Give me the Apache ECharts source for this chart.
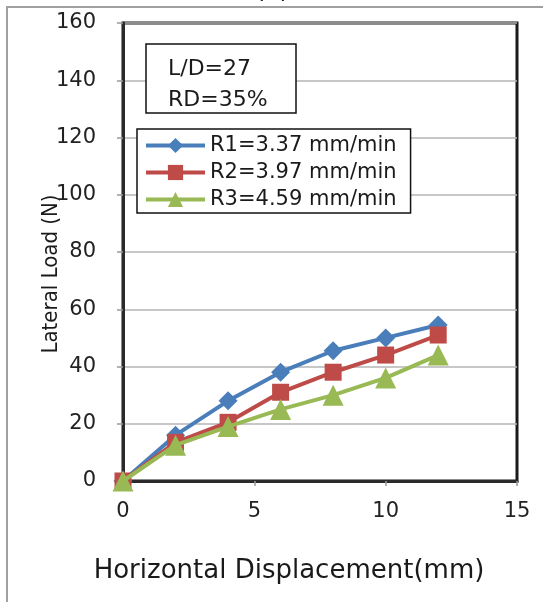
<!DOCTYPE html>
<html>
<head>
<meta charset="utf-8">
<script src="https://cdn.jsdelivr.net/npm/echarts@6/dist/echarts.min.js"></script>
<style>
html,body{margin:0;padding:0;background:#fff;}
#chart{width:543px;height:602px;}
</style>
</head>
<body>
<div id="chart"></div>
<script>
// ---- data ----
const displacement = [0, 2, 4, 6, 8, 10, 12];
const seriesNames = ['R1=3.37 mm/min', 'R2=3.97 mm/min', 'R3=4.59 mm/min'];
const loadR1 = [0, 16, 28, 38, 45.5, 50, 54.5];
const loadR2 = [0, 13.5, 20.5, 31, 38, 44, 51];
const loadR3 = [0, 12.5, 19, 25, 30, 36, 44];
const infoLines = ['L/D=27', 'RD=35%'];
const xTitle = 'Horizontal Displacement(mm)';
const yTitle = 'Lateral Load (N)';
const panelLabel = '(c)';

function pairs(xs, ys) { return xs.map((x, i) => [x, ys[i]]); }

const chart = echarts.init(document.getElementById('chart'), null, {renderer: 'canvas'});
const FONT = 'DejaVu Sans';
const colors = ['#4a7ebb', '#be4b48', '#98b954'];
const symbols = ['diamond', 'rect', 'triangle'];
const symSizes = [19, 17, 21];
const dataSets = [loadR1, loadR2, loadR3];

const option = {
  animation: false,
  backgroundColor: '#fff',
  grid: {left: 123, top: 23, right: 26, bottom: 121, show: true, borderColor: '#1a1a1a', borderWidth: 3, backgroundColor: 'transparent'},
  xAxis: {
    type: 'value', min: 0, max: 15, interval: 5,
    axisLine: {show: true, lineStyle: {color: '#2a2a2a', width: 3}},
    axisTick: {show: true, length: 5, lineStyle: {color: '#999', width: 1.5}},
    axisLabel: {fontFamily: FONT, fontSize: 21, color: '#222', margin: 20},
    splitLine: {show: false}
  },
  yAxis: {
    type: 'value', min: 0, max: 160, interval: 20,
    axisLine: {show: true, lineStyle: {color: '#2a2a2a', width: 3}},
    axisTick: {show: true, length: 6, lineStyle: {color: '#999', width: 1.5}},
    axisLabel: {fontFamily: FONT, fontSize: 21, color: '#222', margin: 27},
    splitLine: {show: true, lineStyle: {color: '#b5b5b5', width: 1.5}}
  },
  legend: {
    orient: 'vertical', left: 137, top: 129,
    data: seriesNames,
    itemWidth: 59, itemHeight: 19, itemGap: 6,
    padding: [6, 14, 3, 7],
    borderColor: '#111', borderWidth: 1.5,
    backgroundColor: '#fff',
    lineStyle: {width: 4},
    textStyle: {fontFamily: FONT, fontSize: 21, color: '#1a1a1a', lineHeight: 21, padding: [0, 0, 0, 0]}
  },
  graphic: [
    {type: 'polyline', shape: {points: [[7, 602], [7, 7], [543, 7]]}, style: {stroke: '#a0a0a0', lineWidth: 2, fill: null}, silent: true},
    {type: 'text', left: 255, top: -23, style: {text: panelLabel, font: '26px "DejaVu Sans"', fill: '#222'}},
    {type: 'rect', shape: {x: 146, y: 44, width: 150, height: 69}, style: {fill: '#fff', stroke: '#111', lineWidth: 1.5}, z: 10},
    {type: 'text', x: 168, y: 69, style: {text: infoLines[0], font: '22px "DejaVu Sans"', fill: '#1a1a1a', verticalAlign: 'middle'}, z: 11},
    {type: 'text', x: 168, y: 100, style: {text: infoLines[1], font: '22px "DejaVu Sans"', fill: '#1a1a1a', verticalAlign: 'middle'}, z: 11},
    {type: 'text', x: 289, y: 571, style: {text: xTitle, font: '26px "DejaVu Sans"', fill: '#1a1a1a', align: 'center', verticalAlign: 'middle'}},
    {type: 'text', x: 51, y: 274, rotation: Math.PI / 2, style: {text: yTitle, font: '22px "DejaVu Sans Condensed", "Liberation Sans"', fill: '#1a1a1a', align: 'center', verticalAlign: 'middle'}}
  ],
  series: dataSets.map((d, i) => ({
    name: seriesNames[i],
    type: 'line',
    data: pairs(displacement, d),
    symbol: symbols[i],
    symbolSize: symSizes[i],
    showAllSymbol: true,
    lineStyle: {color: colors[i], width: 4},
    itemStyle: {color: colors[i], borderColor: colors[i], borderWidth: 0},
    z: 3 + i
  }))
};
chart.setOption(option);
</script>
</body>
</html>
